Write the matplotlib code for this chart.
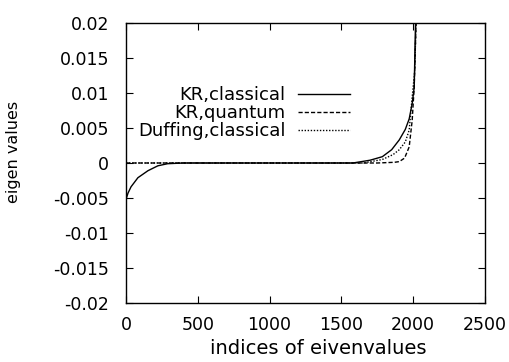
import matplotlib
matplotlib.use("Agg")
import matplotlib.pyplot as plt

plt.rcParams['font.family'] = ['DejaVu Sans']

# KR, classical (solid)
kr_cl_x = [0, 3, 14, 35, 83, 153, 222, 290, 400, 1000, 1580, 1700, 1785, 1850, 1903,
           1945, 1972, 1993, 2007, 2016, 2025]
kr_cl_y = [-0.0058, -0.0050, -0.0043, -0.0034, -0.0021, -0.0011, -0.0004, -0.0001, 0, 0, 0,
           0.0004, 0.0009, 0.0019, 0.0033, 0.0048, 0.0063, 0.0085, 0.0108, 0.02, 0.03]
# KR, quantum (dashed)
kr_qu_x = [0, 1750, 1870, 1903, 1940, 1972, 1993, 2007, 2020, 2032]
kr_qu_y = [0, 0, 0.0001, 0.0002, 0.0007, 0.0023, 0.0061, 0.0109, 0.02, 0.03]
# Duffing, classical (dotted)
duff_x = [0, 1650, 1785, 1860, 1903, 1945, 1972, 1993, 2010, 2020, 2030]
duff_y = [0, 0, 0.0005, 0.0012, 0.0019, 0.0030, 0.0047, 0.0094, 0.0130, 0.02, 0.03]

xticks = [0, 500, 1000, 1500, 2000, 2500]
yticks = [-0.02, -0.015, -0.01, -0.005, 0, 0.005, 0.01, 0.015, 0.02]
ytick_labels = ['-0.02', '-0.015', '-0.01', '-0.005', '0', '0.005', '0.01', '0.015', '0.02']

W, H = 509, 362
fig = plt.figure(figsize=(W / 100, H / 100), dpi=100)
ax = fig.add_axes([126 / W, 1 - 303 / H, 359 / W, 280 / H])

ax.plot(kr_cl_x, kr_cl_y, color='black', lw=1.0, linestyle='-', label='KR,classical')
ax.plot(kr_qu_x, kr_qu_y, color='black', lw=1.0, linestyle=(0, (3, 1.5)), label='KR,quantum')
ax.plot(duff_x, duff_y, color='black', lw=1.0, linestyle=(0, (1, 1.2)), label='Duffing,classical')

ax.set_xlim(0, 2500)
ax.set_ylim(-0.02, 0.02)
ax.set_xticks(xticks)
ax.set_yticks(yticks)
ax.set_yticklabels(ytick_labels)
ax.tick_params(direction='in', top=True, right=True, labelsize=12.5, length=5)
ax.tick_params(axis='x', pad=9)
ax.tick_params(axis='y', pad=12)
for s in ax.spines.values():
    s.set_linewidth(1.0)

ax.set_xlabel('indices of eivenvalues', fontsize=14)
ax.xaxis.set_label_coords((318.5 - 126) / 359, -0.13)
ax.set_ylabel('eigen values', fontsize=11.5)
ax.yaxis.set_label_coords((21 - 126) / 359, (303 - 152) / 280)

leg = ax.legend(loc='center right', bbox_to_anchor=(350 / W, 1 - 113 / H),
                bbox_transform=fig.transFigure, frameon=False,
                markerfirst=False, fontsize=13, handlelength=2.9,
                labelspacing=0.0, handletextpad=0.67, borderaxespad=0, borderpad=0)
for t in leg.get_texts():
    t.set_ha('right')
leg._legend_box.align = 'right'

fig.savefig('out.png', dpi=100)
